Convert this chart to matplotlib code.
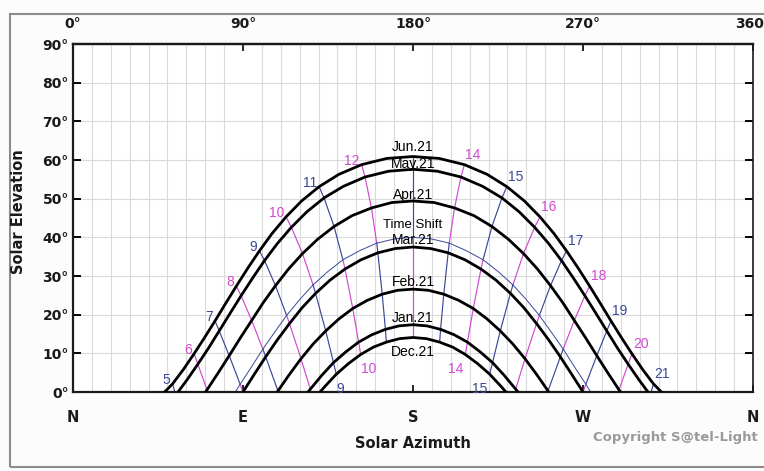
import matplotlib
matplotlib.use("Agg")
import matplotlib.pyplot as plt
from matplotlib.patches import Rectangle

# Sun path diagram (approx. 52.5 N): solar azimuth / elevation in degrees

month_labels = ["Jun.21", "May.21", "Apr.21", "Mar.21", "Feb.21", "Jan.21", "Dec.21"]

jun_az = [48.5, 52.7, 58.4, 64.1, 69.7, 75.2, 80.8, 86.5, 92.5, 98.7, 105.4, 112.8, 121.0, 130.3,
          140.8, 152.8, 166.1, 180.0, 193.9, 207.2, 219.2, 229.7, 239.0, 247.2, 254.6, 261.3,
          267.5, 273.5, 279.2, 284.8, 290.3, 295.9, 301.6, 307.3, 311.5]
jun_el = [0.0, 2.1, 5.8, 9.9, 14.1, 18.4, 22.9, 27.4, 32.0, 36.5, 41.0, 45.3, 49.4, 53.1, 56.3,
          58.8, 60.4, 60.9, 60.4, 58.8, 56.3, 53.1, 49.4, 45.3, 41.0, 36.5, 32.0, 27.4, 22.9,
          18.4, 14.1, 9.9, 5.8, 2.1, 0.0]

may_az = [55.6, 60.3, 66.1, 71.8, 77.4, 83.1, 89.0, 95.0, 101.4, 108.2, 115.6, 123.8, 132.9,
          143.2, 154.6, 167.1, 180.0, 192.9, 205.4, 216.8, 227.1, 236.2, 244.4, 251.8, 258.6,
          265.0, 271.0, 276.9, 282.6, 288.2, 293.9, 299.7, 304.4]
may_el = [0.0, 3.1, 7.2, 11.4, 15.8, 20.3, 24.9, 29.4, 34.0, 38.4, 42.6, 46.6, 50.2, 53.2, 55.6,
          57.1, 57.6, 57.1, 55.6, 53.2, 50.2, 46.6, 42.6, 38.4, 34.0, 29.4, 24.9, 20.3, 15.8,
          11.4, 7.2, 3.1, 0.0]

apr_az = [70.2, 76.8, 82.7, 88.6, 94.6, 100.7, 107.2, 114.1, 121.5, 129.5, 138.2, 147.7, 158.0,
          168.8, 180.0, 191.2, 202.0, 212.3, 221.8, 230.5, 238.5, 245.9, 252.8, 259.3, 265.4,
          271.4, 277.3, 283.2, 289.8]
apr_el = [0.0, 4.9, 9.4, 14.0, 18.5, 23.1, 27.5, 31.8, 35.8, 39.5, 42.8, 45.6, 47.6, 49.0, 49.4,
          49.0, 47.6, 45.6, 42.8, 39.5, 35.8, 31.8, 27.5, 23.1, 18.5, 14.0, 9.4, 4.9, 0.0]

mar_az = [90.0, 96.0, 102.0, 108.2, 114.6, 121.3, 128.4, 136.0, 144.0, 152.5, 161.4, 170.6, 180.0,
          189.4, 198.6, 207.5, 216.0, 224.0, 231.6, 238.7, 245.4, 251.8, 258.0, 264.0, 270.0]
mar_el = [0.0, 4.6, 9.1, 13.5, 17.7, 21.8, 25.5, 28.9, 31.8, 34.2, 36.0, 37.1, 37.5, 37.1, 36.0,
          34.2, 31.8, 28.9, 25.5, 21.8, 17.7, 13.5, 9.1, 4.6, 0.0]

feb_az = [108.1, 114.5, 120.7, 127.1, 133.8, 140.8, 148.1, 155.8, 163.7, 171.8, 180.0, 188.2,
          196.3, 204.2, 211.9, 219.2, 226.2, 232.9, 239.3, 245.5, 251.9]
feb_el = [0.0, 4.5, 8.6, 12.4, 15.8, 18.9, 21.6, 23.7, 25.3, 26.3, 26.6, 26.3, 25.3, 23.7, 21.6,
          18.9, 15.8, 12.4, 8.6, 4.5, 0.0]

jan_az = [124.4, 131.7, 137.9, 144.5, 151.2, 158.2, 165.4, 172.6, 180.0, 187.4, 194.6, 201.8,
          208.8, 215.5, 222.1, 228.3, 235.6]
jan_el = [0.0, 4.3, 7.6, 10.4, 12.9, 14.8, 16.2, 17.1, 17.4, 17.1, 16.2, 14.8, 12.9, 10.4, 7.6,
          4.3, 0.0]

dec_az = [130.8, 133.3, 139.4, 145.7, 152.3, 159.0, 165.9, 172.9, 180.0, 187.1, 194.1, 201.0,
          207.7, 214.3, 220.6, 226.7, 229.2]
dec_el = [0.0, 1.4, 4.6, 7.3, 9.7, 11.6, 12.9, 13.8, 14.1, 13.8, 12.9, 11.6, 9.7, 7.3, 4.6, 1.4,
          0.0]

# day of the summer-time switch
shift_az = [85.9, 88.5, 94.5, 100.5, 106.8, 113.1, 120.0, 127.1, 134.8, 142.9, 152.0, 160.8,
            170.3, 180.0, 189.7, 199.2, 208.0, 217.1, 225.2, 232.9, 240.0, 246.9, 253.2, 259.5,
            265.5, 271.5, 274.1]
shift_el = [0.0, 2.0, 6.5, 11.1, 15.5, 19.8, 23.9, 27.7, 31.1, 34.2, 36.6, 38.5, 39.6, 40.0,
            39.6, 38.5, 36.6, 34.2, 31.1, 27.7, 23.9, 19.8, 15.5, 11.1, 6.5, 2.0, 0.0]

# clock-hour lines, summer time (Jun -> May -> Apr -> time shift)
summer_hours = [5, 6, 7, 8, 9, 10, 11, 12, 13, 14, 15, 16, 17, 18, 19, 20, 21]
summer_az = [[52.7, 53.9], [64.1, 66.1, 71.0, 71.3], [75.2, 77.4, 82.7, 88.5],
             [86.5, 89.0, 94.6, 100.5], [98.7, 101.4, 107.2, 113.1], [112.8, 115.6, 121.5, 127.1],
             [130.3, 132.9, 138.2, 142.9], [152.8, 154.6, 158.0, 160.8], [180.0, 180.0, 180.0, 180.0],
             [207.2, 205.4, 202.0, 199.2], [229.7, 227.1, 221.8, 217.1], [247.2, 244.4, 238.5, 232.9],
             [261.3, 258.6, 252.8, 246.9], [273.5, 271.0, 265.4, 259.5], [284.8, 282.6, 277.3, 271.5],
             [295.9, 293.9, 289.0, 288.7], [307.3, 306.1]]
summer_el = [[2.1, 0.0], [9.9, 7.2, 0.5, 0.0], [18.4, 15.8, 9.4, 2.0], [27.4, 24.9, 18.5, 11.1],
             [36.5, 34.0, 27.5, 19.8], [45.3, 42.6, 35.8, 27.7], [53.1, 50.2, 42.8, 34.2],
             [58.8, 55.6, 47.6, 38.5], [60.9, 57.6, 49.4, 40.0], [58.8, 55.6, 47.6, 38.5],
             [53.1, 50.2, 42.8, 34.2], [45.3, 42.6, 35.8, 27.7], [36.5, 34.0, 27.5, 19.8],
             [27.4, 24.9, 18.5, 11.1], [18.4, 15.8, 9.4, 2.0], [9.9, 7.2, 0.5, 0.0], [2.1, 0.0]]

# clock-hour lines, winter time (time shift -> Mar -> Feb -> Jan -> Dec)
winter_hours = [6, 7, 8, 9, 10, 11, 12, 13, 14, 15, 16, 17, 18]
winter_az = [[88.5, 90.0], [100.5, 102.0, 108.5], [113.1, 114.6, 120.7, 125.6],
             [127.1, 128.4, 133.8, 137.9, 139.4], [142.9, 144.0, 148.1, 151.2, 152.3],
             [160.8, 161.4, 163.7, 165.4, 165.9], [180.0, 180.0, 180.0, 180.0, 180.0],
             [199.2, 198.6, 196.3, 194.6, 194.1], [217.1, 216.0, 211.9, 208.8, 207.7],
             [232.9, 231.6, 226.2, 222.1, 220.6], [246.9, 245.4, 239.3, 234.4],
             [259.5, 258.0, 251.5], [271.5, 270.0]]
winter_el = [[2.0, 0.0], [11.1, 9.1, 0.3], [19.8, 17.7, 8.6, 0.8], [27.7, 25.5, 15.8, 7.6, 4.6],
             [34.2, 31.8, 21.6, 12.9, 9.7], [38.5, 36.0, 25.3, 16.2, 12.9],
             [40.0, 37.5, 26.6, 17.4, 14.1], [38.5, 36.0, 25.3, 16.2, 12.9],
             [34.2, 31.8, 21.6, 12.9, 9.7], [27.7, 25.5, 15.8, 7.6, 4.6],
             [19.8, 17.7, 8.6, 0.8], [11.1, 9.1, 0.3], [2.0, 0.0]]
winter_labelled = [9, 10, 14, 15]

top_labels = ["0°", "90°", "180°", "270°", "360°"]
bottom_labels = ["N", "E", "S", "W", "N"]

BLUE = "#3a4898"
MAGENTA = "#d04ad0"
LABEL_FONT = "Liberation Sans"

fig = plt.figure(figsize=(7.64, 4.71), dpi=100, facecolor="#fbfcfb")
ax = fig.add_axes([73 / 764, 79 / 471, 680 / 764, 348 / 471])
ax.set_facecolor("white")
ax.set_xlim(0, 360)
ax.set_ylim(0, 90)

# grid
ax.set_xticks(range(0, 361, 10), minor=True)
ax.grid(True, which="minor", axis="x", color="#dadada", lw=0.8, zorder=0)
ax.grid(True, which="major", axis="y", color="#dadada", lw=0.8, zorder=0)
ax.set_axisbelow(True)

# hour lines
for h, xs, ys in zip(summer_hours, summer_az, summer_el):
    c = BLUE if h % 2 else MAGENTA
    ax.plot(xs, ys, color=c, lw=0.85, zorder=2)
    if h != 13:
        morning = xs[0] < 180
        ax.annotate(str(h), (xs[0], ys[0]), xytext=(-2, 4) if morning else (1, 10),
                    textcoords="offset pixels", ha="right" if morning else "left", va="center",
                    color=c, fontsize=10, family=LABEL_FONT, zorder=5)

for h, xs, ys in zip(winter_hours, winter_az, winter_el):
    c = BLUE if h % 2 else MAGENTA
    ax.plot(xs, ys, color=c, lw=0.85, zorder=2)
    if h in winter_labelled:
        morning = xs[-1] < 180
        ax.annotate(str(h), (xs[-1], ys[-1]), xytext=(0, -15) if morning else (-2, -15),
                    textcoords="offset pixels", ha="left" if morning else "right", va="center",
                    color=c, fontsize=10, family=LABEL_FONT, zorder=5)

# time shift curve
ax.plot(shift_az, shift_el, color=BLUE, lw=0.7, zorder=2)
ax.annotate("Time Shift", (180, max(shift_el)), xytext=(0, 12), textcoords="offset pixels",
            ha="center", va="center", fontsize=9.5, family=LABEL_FONT, zorder=5)

# month curves
month_az = [jun_az, may_az, apr_az, mar_az, feb_az, jan_az, dec_az]
month_el = [jun_el, may_el, apr_el, mar_el, feb_el, jan_el, dec_el]
label_dy = [10, 5, 6, 7, 7.5, 7, -14.5]
for name, xs, ys, dy in zip(month_labels, month_az, month_el, label_dy):
    ax.plot(xs, ys, color="black", lw=2.0, zorder=3, solid_joinstyle="round")
    ax.annotate(name, (180, max(ys)), xytext=(0, dy), textcoords="offset pixels",
                ha="center", va="center", fontsize=10, family=LABEL_FONT, zorder=5)

# axes styling
for side in ["left", "bottom", "top"]:
    ax.spines[side].set_linewidth(1.6)
ax.spines["right"].set_linewidth(1.2)
for s in ax.spines.values():
    s.set_color("#1a1a1a")

ax.set_yticks(range(0, 91, 10))
ax.set_yticklabels([f"{v}°" for v in range(0, 91, 10)], fontsize=10, fontweight="bold",
                   color="#1a1a1a")
ax.tick_params(axis="y", which="major", direction="in", length=6, width=1.4,
               left=True, right=True, pad=3)
ax.tick_params(axis="x", which="minor", length=0)
ax.set_xticks([0, 90, 180, 270, 360])
ax.set_xticklabels(bottom_labels, fontsize=10.5, fontweight="bold", color="#1a1a1a")
ax.tick_params(axis="x", which="major", direction="in", length=5, width=1.2, top=True, pad=13)

sec = ax.secondary_xaxis("top")
sec.set_xticks([0, 90, 180, 270, 360])
sec.set_xticklabels(top_labels, fontsize=10, fontweight="bold", color="#1a1a1a")
sec.tick_params(length=0, pad=9)
sec.spines["top"].set_linewidth(1.6)

fig.text(413 / 764, 1 - 443 / 471, "Solar Azimuth", ha="center", va="center",
         fontsize=10.5, fontweight="bold", color="#1a1a1a")
fig.text(19 / 764, 1 - 212 / 471, "Solar Elevation", ha="center", va="center", rotation=90,
         fontsize=10.5, fontweight="bold", color="#1a1a1a")
fig.text(593 / 764, 1 - 437 / 471, "Copyright S@tel-Light", ha="left", va="center",
         fontsize=9.5, fontweight="bold", color="#9a9a9a")

# outer frame
fig.add_artist(Rectangle((10 / 764, 4 / 471), 1.0, 453 / 471, transform=fig.transFigure,
                         fill=False, edgecolor="#8c8c8c", lw=1.5))

fig.savefig("out.png", dpi=100, facecolor=fig.get_facecolor())
